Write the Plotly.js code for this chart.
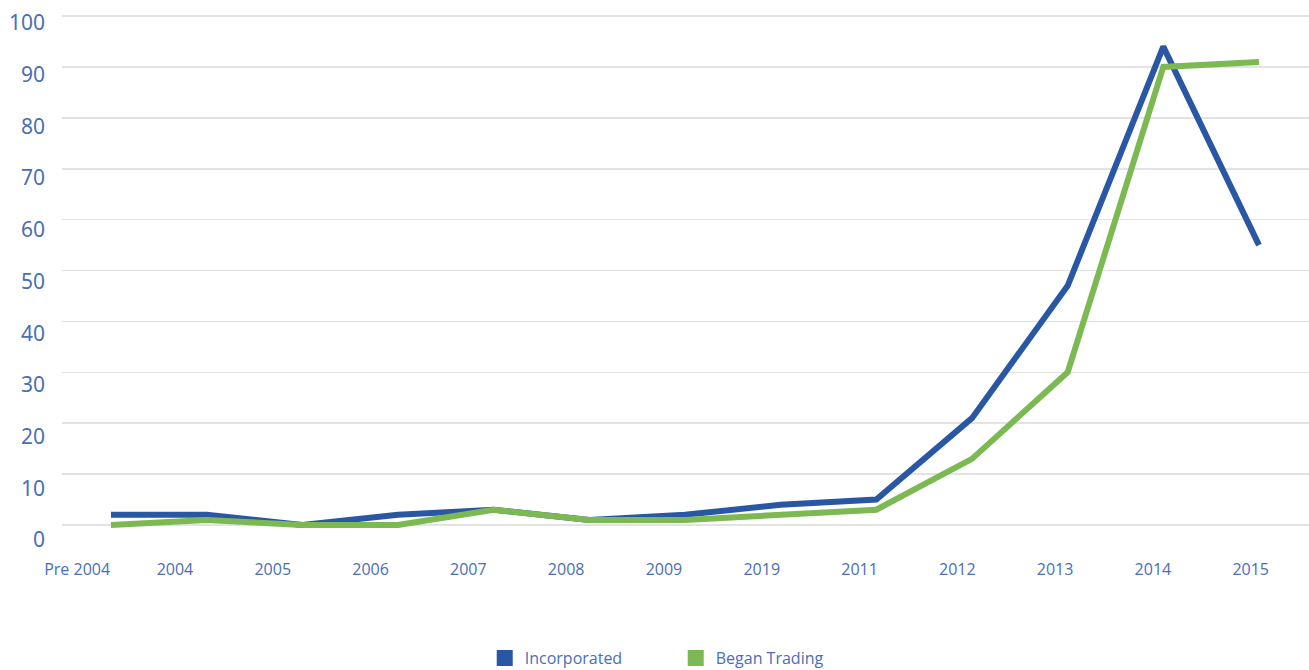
<!DOCTYPE html>
<html>
<head>
<meta charset="utf-8">
<script src="https://cdn.plot.ly/plotly-3.0.1.min.js"></script>
<style>html,body{margin:0;padding:0;background:#fff;}#chart{width:1309px;height:670px;}</style>
</head>
<body>
<div id="chart"></div>
<script>
const categories = ["Pre 2004","2004","2005","2006","2007","2008","2009","2019","2011","2012","2013","2014","2015"];
const incorporated = [2, 2, 0, 2, 3, 1, 2, 4, 5, 21, 47, 94, 55];
const beganTrading = [0, 1, 0, 0, 3, 1, 1, 2, 3, 13, 30, 90, 91];
const yTicks = [0,10,20,30,40,50,60,70,80,90,100];

const blue = "#2957a4";
const green = "#7cb953";
const textColor = "#4a6eb6";
const idx = categories.map((_, i) => i);

const traces = [
  {x: idx, y: incorporated, type: "scatter", mode: "lines", line: {color: blue, width: 6}, showlegend: false, hoverinfo: "skip"},
  {x: idx, y: beganTrading, type: "scatter", mode: "lines", line: {color: green, width: 6}, showlegend: false, hoverinfo: "skip"},
  // invisible carriers so the label axes get drawn
  {x: idx, y: incorporated, xaxis: "x2", yaxis: "y", type: "scatter", mode: "lines", line: {width: 0}, opacity: 0, showlegend: false, hoverinfo: "skip"},
  {x: idx, y: incorporated, xaxis: "x", yaxis: "y2", type: "scatter", mode: "lines", line: {width: 0}, opacity: 0, showlegend: false, hoverinfo: "skip"},
  // legend entries
  {x: [null], y: [null], type: "scatter", mode: "markers", name: "Incorporated", marker: {color: blue, symbol: "square", size: 16}},
  {x: [null], y: [null], type: "scatter", mode: "markers", name: "Began Trading", marker: {color: green, symbol: "square", size: 16}}
];

const layout = {
  width: 1309, height: 670,
  margin: {l: 62, r: 0, t: 12, b: 100, autoexpand: false},
  paper_bgcolor: "#fff", plot_bgcolor: "rgba(0,0,0,0)",
  font: {family: "Open Sans, sans-serif", color: textColor},
  showlegend: true,
  legend: {orientation: "h", x: 0.339, xanchor: "left", y: -0.158, yanchor: "middle",
           font: {size: 16, color: textColor}, entrywidth: 146, entrywidthmode: "pixels", traceorder: "normal"},
  xaxis: {type: "linear", range: [-0.512, 12.523], showgrid: false, zeroline: false, showticklabels: false, showline: false, anchor: "y", ticks: ""},
  xaxis2: {type: "linear", overlaying: "x", anchor: "y", side: "bottom", range: [-0.155, 12.596],
           tickvals: idx, ticktext: categories, showgrid: false, zeroline: false, showline: false, ticks: "",
           tickfont: {size: 16, color: textColor}, ticklabelstandoff: 29},
  yaxis: {domain: [0.0733, 1], range: [-0.8, 100.8], tickvals: yTicks, showticklabels: false, showgrid: true,
          gridcolor: "#e3e3e3", gridwidth: 1.5, zeroline: false, showline: false, ticks: ""},
  yaxis2: {domain: [0, 1], range: [-5.80, 102.13], anchor: "free", position: 0, side: "left",
           tickvals: yTicks, ticktext: yTicks.map(String), showgrid: false, zeroline: false, showline: false, ticks: "",
           tickfont: {family: "Noto Sans, sans-serif", size: 21, color: textColor}, ticklabelstandoff: 17}
};

Plotly.newPlot("chart", traces, layout, {displayModeBar: false, staticPlot: true});
</script>
</body>
</html>
